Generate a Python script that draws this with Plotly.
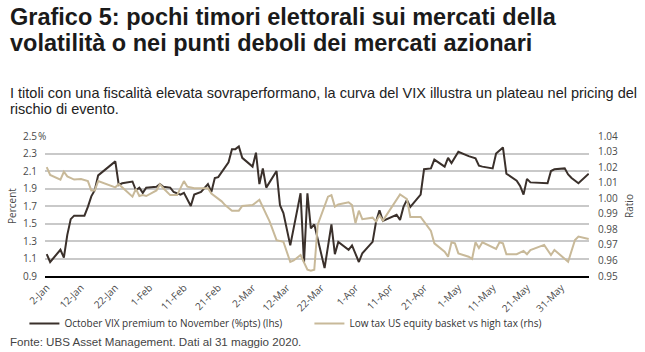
import plotly.graph_objects as go

# ---- data ----
vix_dates = ["2020-01-02","2020-01-03","2020-01-06","2020-01-07","2020-01-08","2020-01-09","2020-01-10","2020-01-13",
             "2020-01-14","2020-01-15","2020-01-16","2020-01-17","2020-01-22","2020-01-23","2020-01-24","2020-01-27",
             "2020-01-28","2020-01-29","2020-01-30","2020-01-31","2020-02-03","2020-02-04","2020-02-05","2020-02-07",
             "2020-02-08","2020-02-09","2020-02-10","2020-02-11","2020-02-13","2020-02-14","2020-02-16","2020-02-18",
             "2020-02-19","2020-02-20","2020-02-21","2020-02-24","2020-02-25","2020-02-26","2020-02-27","2020-02-28",
             "2020-03-02","2020-03-03","2020-03-04","2020-03-05","2020-03-06","2020-03-09","2020-03-10","2020-03-11",
             "2020-03-13","2020-03-16","2020-03-17","2020-03-18","2020-03-19","2020-03-20","2020-03-23","2020-03-25",
             "2020-03-26","2020-03-27","2020-03-30","2020-03-31","2020-04-02","2020-04-03","2020-04-06","2020-04-07",
             "2020-04-08","2020-04-09","2020-04-13","2020-04-14","2020-04-15","2020-04-16","2020-04-17","2020-04-20",
             "2020-04-21","2020-04-23","2020-04-24","2020-04-27","2020-04-28","2020-04-29","2020-05-01","2020-05-04",
             "2020-05-05","2020-05-06","2020-05-07","2020-05-08","2020-05-11","2020-05-12","2020-05-14","2020-05-15",
             "2020-05-18","2020-05-19","2020-05-20","2020-05-21","2020-05-22","2020-05-27","2020-05-28","2020-05-29",
             "2020-06-01","2020-06-02","2020-06-03","2020-06-05","2020-06-08"]
vix_premium = [1.15,1.06,1.20,1.11,1.37,1.55,1.59,1.59,
               1.69,1.81,1.88,2.05,2.21,1.94,1.96,1.98,
               1.88,1.91,1.85,1.91,1.92,1.95,1.92,1.91,
               1.86,1.845,1.83,1.85,1.70,1.83,1.86,1.95,
               1.86,2.02,2.03,2.20,2.35,2.35,2.38,2.25,
               2.15,2.31,1.95,2.13,1.91,2.10,1.71,1.62,
               1.25,1.845,1.05,1.845,1.445,1.49,0.99,1.49,
               1.15,1.29,1.20,1.25,1.06,1.16,1.29,1.52,
               1.65,1.53,1.60,1.54,1.69,1.77,1.69,1.83,
               2.12,2.13,2.23,2.15,2.25,2.19,2.32,2.27,
               2.26,2.245,2.16,2.15,2.13,2.30,2.37,2.07,
               1.99,1.93,1.83,2.01,1.97,1.96,2.10,2.12,
               2.13,2.06,2.02,1.96,2.07]

tax_dates = ["2020-01-02","2020-01-03","2020-01-06","2020-01-07","2020-01-08","2020-01-10","2020-01-12","2020-01-14",
             "2020-01-15","2020-01-16","2020-01-17","2020-01-22","2020-01-23","2020-01-25","2020-01-27","2020-01-28",
             "2020-01-29","2020-01-30","2020-01-31","2020-02-03","2020-02-04","2020-02-05","2020-02-07","2020-02-09",
             "2020-02-11","2020-02-12","2020-02-14","2020-02-18","2020-02-19","2020-02-22","2020-02-23","2020-02-25",
             "2020-02-27","2020-02-28","2020-03-02","2020-03-04","2020-03-05","2020-03-07","2020-03-09","2020-03-11",
             "2020-03-13","2020-03-14","2020-03-16","2020-03-17","2020-03-18","2020-03-19","2020-03-20","2020-03-21",
             "2020-03-23","2020-03-24","2020-03-25","2020-03-26","2020-03-27","2020-03-30","2020-03-31","2020-04-01",
             "2020-04-02","2020-04-03","2020-04-06","2020-04-07","2020-04-08","2020-04-09","2020-04-14","2020-04-16",
             "2020-04-17","2020-04-20","2020-04-21","2020-04-23","2020-04-24","2020-04-25","2020-04-27","2020-04-28",
             "2020-04-29","2020-04-30","2020-05-01","2020-05-04","2020-05-05","2020-05-06","2020-05-07","2020-05-08",
             "2020-05-12","2020-05-13","2020-05-14","2020-05-15","2020-05-18","2020-05-20","2020-05-21","2020-05-22",
             "2020-05-26","2020-05-28","2020-05-29","2020-06-02","2020-06-04","2020-06-05","2020-06-08"]
tax_ratio = [1.020,1.015,1.012,1.017,1.014,1.012,1.0124,1.011,
             1.005,1.005,1.011,1.007,1.009,1.005,1.001,1.006,
             1.0014,1.002,1.0014,1.005,1.009,1.0064,1.002,1.002,
             1.011,1.0074,1.0064,1.0064,1.003,0.998,0.9956,0.992,
             0.992,0.995,0.9956,0.999,0.9946,0.985,0.973,0.972,
             0.959,0.960,0.9635,0.959,0.954,0.9534,0.954,0.983,
             0.9956,1.001,1.002,0.9946,0.996,0.9974,0.9956,0.984,
             0.992,0.9865,0.9875,0.985,0.989,0.9856,1.0025,0.9995,
             0.988,0.988,0.985,0.979,0.971,0.969,0.9656,0.9624,
             0.9717,0.971,0.9645,0.9624,0.961,0.9717,0.968,0.9717,
             0.9674,0.9717,0.971,0.964,0.964,0.9661,0.964,0.9667,
             0.970,0.9635,0.9667,0.9592,0.9731,0.9753,0.9738]

left_ticks = [0.9, 1.1, 1.3, 1.5, 1.7, 1.9, 2.1, 2.3, 2.5]
right_ticks = [0.95, 0.96, 0.97, 0.98, 0.99, 1.00, 1.01, 1.02, 1.03, 1.04]

name_vix = "October VIX premium to November (%pts) (lhs)"
name_tax = "Low tax US equity basket vs high tax (rhs)"
title_lines = ["Grafico 5: pochi timori elettorali sui mercati della",
               "volatilità o nei punti deboli dei mercati azionari"]
subtitle_lines = ["I titoli con una fiscalità elevata sovraperformano, la curva del VIX illustra un plateau nel pricing del",
                  "rischio di evento."]
source_text = "Fonte: UBS Asset Management. Dati al 31 maggio 2020."

# ---- layout geometry ----
W, H = 645, 352
ML, MR, MT, MB = 43, 47, 136, 76
PW, PH = W - ML - MR, H - MT - MB

def px(x):
    return (x - ML) / PW

def py(y):
    return (H - MB - y) / PH

DARK = "#3a302b"
TAN = "#c8b999"
TXT = "#4a4a4a"
CHART_FONT = "Open Sans"
TEXT_FONT = "Liberation Sans"

fig = go.Figure()
fig.add_trace(go.Scatter(x=vix_dates, y=vix_premium, name=name_vix, mode="lines",
                         line=dict(color=DARK, width=2), yaxis="y"))
fig.add_trace(go.Scatter(x=tax_dates, y=tax_ratio, name=name_tax, mode="lines",
                         line=dict(color=TAN, width=2), yaxis="y2"))

annotations = []
for t, yc in zip(title_lines, [17.5, 43.5]):
    annotations.append(dict(text="<b>%s</b>" % t, x=px(5), y=py(yc), xref="paper", yref="paper",
                            xanchor="left", yanchor="middle", showarrow=False,
                            font=dict(family=TEXT_FONT, size=23.5, color="#1a1a1a")))
for t, yc in zip(subtitle_lines, [93, 109]):
    annotations.append(dict(text=t, x=px(5), y=py(yc), xref="paper", yref="paper",
                            xanchor="left", yanchor="middle", showarrow=False,
                            font=dict(family=TEXT_FONT, size=14.5, color="#222222")))
annotations.append(dict(text=source_text, x=px(5), y=py(341.5), xref="paper", yref="paper",
                        xanchor="left", yanchor="middle", showarrow=False,
                        font=dict(family=TEXT_FONT, size=11.6, color="#444444")))
annotations.append(dict(text="%", x=px(33.5), y=py(136), xref="paper", yref="paper",
                        xanchor="left", yanchor="middle", showarrow=False,
                        font=dict(family=CHART_FONT, size=10, color=TXT)))

fig.update_layout(
    width=W, height=H,
    margin=dict(l=ML, r=MR, t=MT, b=MB, pad=0),
    paper_bgcolor="white", plot_bgcolor="white",
    showlegend=True,
    legend=dict(orientation="h", x=px(22), y=py(323.5), xanchor="left", yanchor="middle",
                font=dict(family=CHART_FONT, size=10, color="#333333"),
                entrywidthmode="pixels", entrywidth=240, tracegroupgap=0,
                itemwidth=30, bgcolor="rgba(0,0,0,0)"),
    xaxis=dict(type="date", range=["2020-01-01 12:00", "2020-06-08 02:00"],
               tick0="2020-01-02", dtick=864000000, tickformat="%-d-%b", tickangle=-45,
               showgrid=False, showline=True, linecolor="black", linewidth=2,
               ticks="", tickfont=dict(family=CHART_FONT, size=10, color=TXT), zeroline=False),
    yaxis=dict(range=[0.9, 2.5], tickvals=left_ticks, ticktext=["%.1f" % v for v in left_ticks],
               showgrid=True, gridcolor="#c9c9c9", gridwidth=1.5, zeroline=False,
               ticks="", ticklabelstandoff=7,
               tickfont=dict(family=CHART_FONT, size=10, color=TXT),
               title=dict(text="Percent", font=dict(family=CHART_FONT, size=10, color=TXT), standoff=4)),
    yaxis2=dict(range=[0.95, 1.04], tickvals=right_ticks, ticktext=["%.2f" % v for v in right_ticks],
                overlaying="y", side="right", showgrid=False, zeroline=False,
                ticks="outside", ticklen=6, tickcolor="rgba(0,0,0,0)",
                tickfont=dict(family=CHART_FONT, size=10, color=TXT),
                title=dict(text="Ratio", font=dict(family=CHART_FONT, size=10, color=TXT), standoff=8)),
    annotations=annotations,
)

fig.write_html("out.html")
